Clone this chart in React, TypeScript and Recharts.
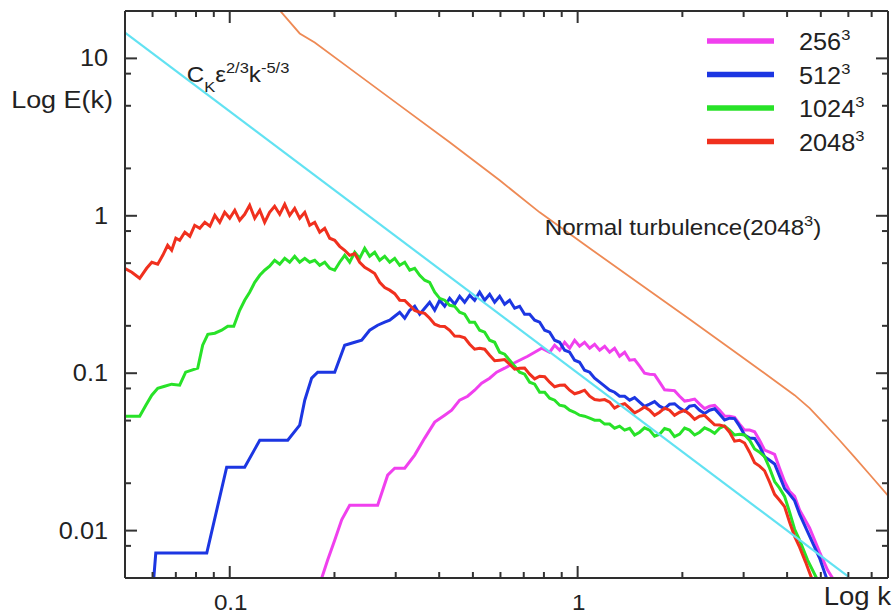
import React from 'react';
import { LineChart, Line, XAxis, YAxis, Legend, ReferenceDot, Label } from 'recharts';

// ---------- axis ticks ----------
const kTicks = [0.06, 0.07, 0.08, 0.09, 0.1, 0.2, 0.3, 0.4, 0.5, 0.6, 0.7, 0.8, 0.9, 1, 2, 3, 4, 5, 6, 7];
const kMajor = [0.1, 1];
const eTicks = [0.008, 0.01, 0.02, 0.05, 0.08, 0.1, 0.2, 0.5, 0.8, 1, 2, 5, 8, 10];
const eMajor = [0.01, 0.1, 1, 10];
const kDomain = [0.05, 7.8];
const eDomain = [0.005, 20];

// ---------- series (k, E(k)) ----------
const s256: [number, number][] = [
  [0.1814, 0.00419], [0.1838, 0.00499], [0.1912, 0.0065], [0.2003, 0.0087], [0.2098, 0.0117], [0.2212, 0.0145],
  [0.2443, 0.0145], [0.2662, 0.0145], [0.2844, 0.0225], [0.298, 0.0249], [0.3184, 0.0249], [0.3401, 0.0302],
  [0.3634, 0.0387], [0.3883, 0.0489], [0.4148, 0.0541], [0.4344, 0.0582], [0.458, 0.0674], [0.4829, 0.0714],
  [0.5058, 0.078], [0.5298, 0.0864], [0.5586, 0.093], [0.5851, 0.1015], [0.6168, 0.1076], [0.6461, 0.114],
  [0.6813, 0.1209], [0.7185, 0.1282], [0.7525, 0.1359], [0.7882, 0.1441], [0.8309, 0.1359], [0.8588, 0.1506],
  [0.8877, 0.14], [0.9176, 0.1573], [0.9484, 0.1441], [0.9803, 0.162], [1.013, 0.1484], [1.047, 0.1573],
  [1.083, 0.1441], [1.119, 0.1528], [1.157, 0.14], [1.196, 0.1484], [1.236, 0.1359], [1.277, 0.1441],
  [1.32, 0.1282], [1.365, 0.1359], [1.411, 0.1209], [1.458, 0.122], [1.507, 0.1108], [1.557, 0.1],
  [1.61, 0.0986], [1.664, 0.098], [1.72, 0.0877], [1.778, 0.0785], [1.838, 0.078], [1.899, 0.0775],
  [1.964, 0.0714], [2.03, 0.0665], [2.098, 0.0674], [2.169, 0.0685], [2.242, 0.0636], [2.317, 0.0595],
  [2.395, 0.0617], [2.476, 0.0625], [2.559, 0.0582], [2.645, 0.0535], [2.734, 0.0533], [2.826, 0.0525],
  [2.921, 0.0475], [3.019, 0.0435], [3.121, 0.0435], [3.226, 0.0425], [3.334, 0.0375], [3.446, 0.0325],
  [3.563, 0.0315], [3.683, 0.0305], [3.806, 0.0249], [3.934, 0.0205], [4.067, 0.0178], [4.204, 0.0165],
  [4.345, 0.0135], [4.642, 0.0104], [4.959, 0.0073], [5.229, 0.00561], [5.405, 0.00499], [5.513, 0.00419],
];

const s512: [number, number][] = [
  [0.0601, 0.00419], [0.0613, 0.0072], [0.0859, 0.0072], [0.098, 0.0253], [0.1104, 0.0253], [0.122, 0.0375],
  [0.1468, 0.0375], [0.1589, 0.0468], [0.1643, 0.0674], [0.172, 0.093], [0.179, 0.1015], [0.2003, 0.1015],
  [0.214, 0.1506], [0.2287, 0.1573], [0.2395, 0.162], [0.2525, 0.1875], [0.2662, 0.2017], [0.2789, 0.2108],
  [0.2883, 0.2171], [0.298, 0.2301], [0.308, 0.244], [0.3184, 0.2235], [0.3291, 0.2512], [0.3401, 0.2663],
  [0.3516, 0.2369], [0.3634, 0.2587], [0.3756, 0.2823], [0.3883, 0.2512], [0.4013, 0.2907], [0.4148, 0.2663],
  [0.4287, 0.2993], [0.4432, 0.2742], [0.458, 0.3083], [0.4734, 0.2823], [0.4894, 0.313], [0.5058, 0.2907],
  [0.5228, 0.327], [0.5404, 0.2907], [0.5586, 0.3174], [0.5774, 0.2823], [0.5968, 0.3083], [0.6168, 0.2742],
  [0.6376, 0.2907], [0.6591, 0.2587], [0.6813, 0.2663], [0.704, 0.2369], [0.728, 0.2369], [0.7525, 0.2171],
  [0.7778, 0.2108], [0.804, 0.1875], [0.8309, 0.1821], [0.8588, 0.162], [0.8877, 0.1573], [0.9176, 0.14],
  [0.9484, 0.1359], [0.9803, 0.1209], [1.013, 0.1174], [1.047, 0.1045], [1.083, 0.1015], [1.119, 0.093],
  [1.157, 0.0877], [1.196, 0.0827], [1.236, 0.078], [1.277, 0.0757], [1.32, 0.0714], [1.365, 0.0714],
  [1.411, 0.0674], [1.458, 0.07], [1.507, 0.0655], [1.557, 0.0615], [1.61, 0.0636], [1.664, 0.066],
  [1.72, 0.0617], [1.778, 0.0595], [1.838, 0.0636], [1.899, 0.064], [1.964, 0.06], [2.03, 0.0575],
  [2.098, 0.0617], [2.169, 0.0625], [2.242, 0.0582], [2.317, 0.0555], [2.395, 0.0582], [2.476, 0.0595],
  [2.559, 0.0549], [2.645, 0.0505], [2.734, 0.0518], [2.826, 0.0515], [2.921, 0.0461], [3.019, 0.0405],
  [3.121, 0.0387], [3.226, 0.0385], [3.334, 0.0344], [3.446, 0.0295], [3.563, 0.028], [3.683, 0.0265],
  [3.806, 0.0222], [3.934, 0.0185], [4.067, 0.017], [4.204, 0.0155], [4.345, 0.0127], [4.642, 0.00923],
  [4.959, 0.00669], [5.194, 0.00499], [5.298, 0.00419],
];

const s1024: [number, number][] = [
  [0.0499, 0.0533], [0.0523, 0.0533], [0.0551, 0.0533], [0.0574, 0.0626], [0.0597, 0.0725], [0.0621, 0.0803],
  [0.065, 0.0827], [0.0681, 0.0852], [0.0718, 0.0839], [0.0747, 0.1015], [0.0778, 0.1045], [0.0809, 0.1076],
  [0.0836, 0.1506], [0.0865, 0.1768], [0.0906, 0.1795], [0.0948, 0.1875], [0.0987, 0.1988], [0.1027, 0.1988],
  [0.1068, 0.2512], [0.1104, 0.2907], [0.1141, 0.327], [0.118, 0.378], [0.122, 0.419], [0.126, 0.451],
  [0.1302, 0.478], [0.1346, 0.522], [0.1392, 0.492], [0.1439, 0.537], [0.1487, 0.507], [0.1537, 0.553],
  [0.1589, 0.507], [0.1643, 0.537], [0.1698, 0.507], [0.1755, 0.522], [0.1814, 0.485], [0.1875, 0.507],
  [0.1938, 0.464], [0.2003, 0.451], [0.207, 0.507], [0.214, 0.561], [0.2212, 0.507], [0.2287, 0.586],
  [0.2363, 0.537], [0.2443, 0.622], [0.2525, 0.553], [0.261, 0.586], [0.2698, 0.522], [0.2789, 0.553],
  [0.2883, 0.507], [0.298, 0.537], [0.308, 0.485], [0.3184, 0.507], [0.3291, 0.451], [0.3401, 0.464],
  [0.3516, 0.419], [0.3634, 0.3896], [0.3756, 0.378], [0.3883, 0.327], [0.4013, 0.299], [0.4148, 0.291],
  [0.4287, 0.27], [0.4432, 0.266], [0.458, 0.244], [0.4734, 0.237], [0.4894, 0.2108], [0.5058, 0.2108],
  [0.5228, 0.1875], [0.5404, 0.1821], [0.5586, 0.162], [0.5774, 0.1573], [0.5968, 0.1359], [0.6168, 0.132],
  [0.6376, 0.1209], [0.6591, 0.1108], [0.6813, 0.1015], [0.704, 0.0986], [0.728, 0.0877], [0.7525, 0.0852],
  [0.7778, 0.0757], [0.804, 0.0757], [0.8309, 0.0694], [0.8588, 0.0674], [0.8877, 0.0626], [0.9176, 0.0617],
  [0.9484, 0.0582], [0.9803, 0.0565], [1.013, 0.0541], [1.047, 0.0533], [1.083, 0.0518], [1.119, 0.0503],
  [1.157, 0.0503], [1.196, 0.0475], [1.236, 0.0475], [1.277, 0.0447], [1.32, 0.0461], [1.365, 0.0435],
  [1.411, 0.0447], [1.458, 0.0405], [1.507, 0.0422], [1.557, 0.045], [1.61, 0.0435], [1.664, 0.0398],
  [1.72, 0.041], [1.778, 0.0445], [1.838, 0.0435], [1.899, 0.0395], [1.964, 0.041], [2.03, 0.0448],
  [2.098, 0.0435], [2.169, 0.0405], [2.242, 0.0422], [2.317, 0.045], [2.395, 0.0435], [2.476, 0.0415],
  [2.559, 0.0447], [2.645, 0.0462], [2.734, 0.0435], [2.826, 0.0405], [2.921, 0.041], [3.019, 0.0405],
  [3.121, 0.0375], [3.226, 0.033], [3.334, 0.0315], [3.446, 0.0295], [3.563, 0.0249], [3.683, 0.0205],
  [3.806, 0.0186], [3.934, 0.0165], [4.067, 0.0131], [4.204, 0.0102], [4.345, 0.0087], [4.581, 0.0065],
  [4.861, 0.00499], [4.959, 0.00419],
];

const s2048: [number, number][] = [
  [0.0499, 0.464], [0.0523, 0.438], [0.0551, 0.401], [0.0577, 0.464], [0.0597, 0.507], [0.0621, 0.492],
  [0.0642, 0.561], [0.0663, 0.65], [0.0681, 0.604], [0.07, 0.72], [0.0718, 0.699], [0.0743, 0.786],
  [0.0768, 0.741], [0.0793, 0.87], [0.082, 0.833], [0.0848, 0.909], [0.0877, 0.858], [0.0906, 1.007],
  [0.0936, 0.909], [0.0967, 1.052], [0.1, 0.964], [0.1034, 1.084], [0.1068, 0.936], [0.1104, 1.022],
  [0.1141, 1.166], [0.118, 0.964], [0.122, 1.084], [0.126, 0.909], [0.1302, 1.052], [0.1346, 1.149],
  [0.1392, 1.022], [0.1439, 1.183], [0.1487, 1.007], [0.1537, 1.116], [0.1589, 0.964], [0.1643, 1.052],
  [0.1698, 0.87], [0.1755, 0.909], [0.1814, 0.786], [0.1875, 0.833], [0.1938, 0.72], [0.2003, 0.699],
  [0.207, 0.64], [0.214, 0.604], [0.2212, 0.561], [0.2287, 0.575], [0.2363, 0.507], [0.2443, 0.47],
  [0.2525, 0.451], [0.261, 0.43], [0.2698, 0.378], [0.2789, 0.35], [0.2883, 0.337], [0.298, 0.32],
  [0.308, 0.291], [0.3184, 0.29], [0.3291, 0.27], [0.3401, 0.25], [0.3516, 0.244], [0.3634, 0.24],
  [0.3756, 0.2235], [0.3883, 0.205], [0.4013, 0.1988], [0.4148, 0.198], [0.4287, 0.1875], [0.4432, 0.172],
  [0.458, 0.1717], [0.4734, 0.168], [0.4894, 0.1528], [0.5058, 0.142], [0.5228, 0.1441], [0.5404, 0.142],
  [0.5586, 0.1301], [0.5774, 0.12], [0.5968, 0.1209], [0.6168, 0.122], [0.6376, 0.114], [0.6591, 0.106],
  [0.6813, 0.1076], [0.704, 0.108], [0.728, 0.0986], [0.7525, 0.092], [0.7778, 0.0957], [0.804, 0.095],
  [0.8309, 0.0877], [0.8588, 0.082], [0.8877, 0.0839], [0.9176, 0.084], [0.9484, 0.078], [0.9803, 0.074],
  [1.013, 0.0757], [1.047, 0.078], [1.083, 0.0714], [1.119, 0.068], [1.157, 0.0674], [1.196, 0.068],
  [1.236, 0.0655], [1.277, 0.06], [1.32, 0.0626], [1.365, 0.064], [1.411, 0.06], [1.458, 0.056],
  [1.507, 0.0582], [1.557, 0.061], [1.61, 0.0582], [1.664, 0.054], [1.72, 0.0565], [1.778, 0.06],
  [1.838, 0.0582], [1.899, 0.054], [1.964, 0.0565], [2.03, 0.058], [2.098, 0.0549], [2.169, 0.051],
  [2.242, 0.0533], [2.317, 0.054], [2.395, 0.0503], [2.476, 0.047], [2.559, 0.0468], [2.645, 0.046],
  [2.734, 0.0422], [2.826, 0.037], [2.921, 0.0375], [3.019, 0.036], [3.121, 0.0315], [3.226, 0.027],
  [3.334, 0.0257], [3.446, 0.024], [3.563, 0.0203], [3.683, 0.017], [3.806, 0.0156], [3.934, 0.0142],
  [4.067, 0.0113], [4.204, 0.0092], [4.345, 0.00786], [4.521, 0.00631], [4.704, 0.00499], [4.797, 0.00419],
];

const kolmogorov: [number, number][] = [[0.05, 14.6], [6.0, 0.0051]];

const normal2048: [number, number][] = [
  [0.1355, 21.7], [0.1392, 20.2], [0.1589, 14.4], [0.1755, 12.6], [0.2212, 8.64], [0.308, 5.03],
  [0.4287, 2.93], [0.5968, 1.68], [0.7778, 1.052], [1.083, 0.622], [1.507, 0.37], [2.098, 0.22],
  [2.921, 0.13], [3.806, 0.0852], [4.204, 0.0725], [4.642, 0.06], [5.13, 0.0475], [5.66, 0.0375],
  [6.25, 0.0293], [6.9, 0.0228], [7.78, 0.0168], [8.15, 0.0147],
];

const toPts = (a: [number, number][]) => a.map(([k, e]) => ({ k, e }));

const seriesList = [
  { name: '256', color: '#f040ee', data: s256 },
  { name: '512', color: '#1c36e2', data: s512 },
  { name: '1024', color: '#28e228', data: s1024 },
  { name: '2048', color: '#f0301e', data: s2048 },
];

// ---------- layout / style ----------
const CHART_W = 895;
const CHART_H = 616;
const MARGIN = { top: 10, right: 6, bottom: 8, left: 65 };
const X_AXIS_H = 30;
const Y_AXIS_W = 60;
const TOP_AXIS_H = 1;
const RIGHT_AXIS_W = 1;
const PLOT_W = CHART_W - MARGIN.left - MARGIN.right - Y_AXIS_W - RIGHT_AXIS_W;
const PLOT_H = CHART_H - MARGIN.top - MARGIN.bottom - X_AXIS_H - TOP_AXIS_H;

const AX = '#2e2e2e';
const TICK_COLOR = '#333333';
const TICK_W = 2;
const FONT = "'Liberation Sans', Arial, Helvetica, sans-serif";
const SX = 1.1;

function Txt({ x, y, anchor = 'start', size = 22, children }: any) {
  return (
    <text
      transform={`translate(${x},${y}) scale(${SX},1)`}
      x={0}
      y={0}
      textAnchor={anchor}
      fontSize={size}
      fill="#222"
      fontFamily={FONT}
    >
      {children}
    </text>
  );
}

// bottom ticks (and the mirrored ticks on the top frame)
const BottomTick = (p: any) => {
  const { x, y, payload } = p;
  const v = payload.value;
  const major = kMajor.includes(v);
  const len = major ? 12 : 6;
  const yTop = y - PLOT_H;
  return (
    <g>
      <path d={`M${x},${y}V${y - len}`} stroke={TICK_COLOR} strokeWidth={TICK_W} fill="none" />
      <path d={`M${x},${yTop}V${yTop + len}`} stroke={TICK_COLOR} strokeWidth={TICK_W} fill="none" />
      {major && (
        <Txt x={x + 1} y={y + 32} anchor="middle" size={22}>
          {String(v)}
        </Txt>
      )}
    </g>
  );
};

// left ticks (and the mirrored ticks on the right frame)
const LeftTick = (p: any) => {
  const { x, y, payload } = p;
  const v = payload.value;
  const major = eMajor.includes(v);
  const len = major ? 12 : 6;
  const xRight = x + PLOT_W;
  return (
    <g>
      <path d={`M${x},${y}H${x + len}`} stroke={TICK_COLOR} strokeWidth={TICK_W} fill="none" />
      <path d={`M${xRight},${y}H${xRight - len}`} stroke={TICK_COLOR} strokeWidth={TICK_W} fill="none" />
      {major && (
        <Txt x={x - 17} y={y + 8} anchor="end" size={23}>
          {String(v)}
        </Txt>
      )}
    </g>
  );
};

const LegendBox = () => (
  <svg width={190} height={150}>
    {seriesList.map((s, i) => {
      const yy = 21 + i * 33.5;
      return (
        <g key={s.name}>
          <line x1={7} x2={74} y1={yy} y2={yy} stroke={s.color} strokeWidth={5.5} />
          <Txt x={99} y={yy + 9} size={23}>
            {s.name}
            <tspan dy={-10} fontSize={15}>3</tspan>
          </Txt>
        </g>
      );
    })}
  </svg>
);

const FormulaLabel = (p: any) => {
  const vb = p.viewBox || {};
  return (
    <Txt x={vb.x ?? 0} y={vb.y ?? 0} size={22}>
      C<tspan dy={10} fontSize={15}>K</tspan>
      <tspan dy={-10} fontSize={22}>ε</tspan>
      <tspan dy={-9} fontSize={15}>2/3</tspan>
      <tspan dy={9} fontSize={22}>k</tspan>
      <tspan dy={-9} fontSize={15}>-5/3</tspan>
    </Txt>
  );
};

const NormalLabel = (p: any) => {
  const vb = p.viewBox || {};
  return (
    <Txt x={vb.x ?? 0} y={vb.y ?? 0} size={22}>
      Normal turbulence(2048<tspan dy={-9} fontSize={15}>3</tspan>
      <tspan dy={9} fontSize={22}>)</tspan>
    </Txt>
  );
};

export default function App() {
  return (
    <div style={{ position: 'absolute', left: 0, top: 0, width: CHART_W, height: CHART_H, background: '#fff' }}>
      <LineChart width={CHART_W} height={CHART_H} margin={MARGIN}>
        <XAxis
          dataKey="k"
          type="number"
          scale="log"
          domain={kDomain}
          allowDataOverflow
          ticks={kTicks}
          interval={0}
          height={X_AXIS_H}
          tickSize={0}
          tickMargin={0}
          tickLine={false}
          axisLine={{ stroke: AX, strokeWidth: 2 }}
          tick={(p: any) => <BottomTick {...p} />}
        >
          <Label
            content={(p: any) => {
              const vb = p.viewBox || {};
              return (
                <Txt x={(vb.x ?? 0) + (vb.width ?? 0) + 3} y={(vb.y ?? 0) + 27} anchor="end" size={25}>
                  Log k
                </Txt>
              );
            }}
          />
        </XAxis>
        <XAxis
          xAxisId="top"
          orientation="top"
          dataKey="k"
          type="number"
          scale="log"
          domain={kDomain}
          allowDataOverflow
          height={TOP_AXIS_H}
          tick={false}
          tickLine={false}
          axisLine={{ stroke: AX, strokeWidth: 2 }}
        />
        <YAxis
          type="number"
          scale="log"
          domain={eDomain}
          allowDataOverflow
          ticks={eTicks}
          interval={0}
          width={Y_AXIS_W}
          tickSize={0}
          tickMargin={0}
          tickLine={false}
          axisLine={{ stroke: AX, strokeWidth: 2 }}
          tick={(p: any) => <LeftTick {...p} />}
        >
          <Label
            content={(p: any) => {
              const vb = p.viewBox || {};
              return (
                <Txt x={(vb.x ?? 0) + (vb.width ?? 0) - 12} y={(vb.y ?? 0) + 97} anchor="end" size={24.5}>
                  Log E(k)
                </Txt>
              );
            }}
          />
        </YAxis>
        <YAxis
          yAxisId="right"
          orientation="right"
          type="number"
          scale="log"
          domain={eDomain}
          allowDataOverflow
          width={RIGHT_AXIS_W}
          tick={false}
          tickLine={false}
          axisLine={{ stroke: AX, strokeWidth: 2 }}
        />

        <Line data={toPts(normal2048)} dataKey="e" stroke="#ee8a55" strokeWidth={1.8} dot={false} isAnimationActive={false} legendType="none" />
        {seriesList.map((s) => (
          <Line key={s.name} data={toPts(s.data)} dataKey="e" name={s.name} stroke={s.color} strokeWidth={3} dot={false} isAnimationActive={false} />
        ))}
        <Line data={toPts(kolmogorov)} dataKey="e" stroke="#62e2f2" strokeWidth={2.2} dot={false} isAnimationActive={false} legendType="none" />

        <ReferenceDot x={0.0752} y={7.04} r={0} fill="none" stroke="none" label={(p: any) => <FormulaLabel {...p} />} />
        <ReferenceDot x={0.804} y={0.752} r={0} fill="none" stroke="none" label={(p: any) => <NormalLabel {...p} />} />

        <Legend
          content={() => <LegendBox />}
          layout="vertical"
          align="center"
          verticalAlign="middle"
          wrapperStyle={{ left: 700, top: 20, width: 190, height: 150 }}
        />
      </LineChart>
    </div>
  );
}
